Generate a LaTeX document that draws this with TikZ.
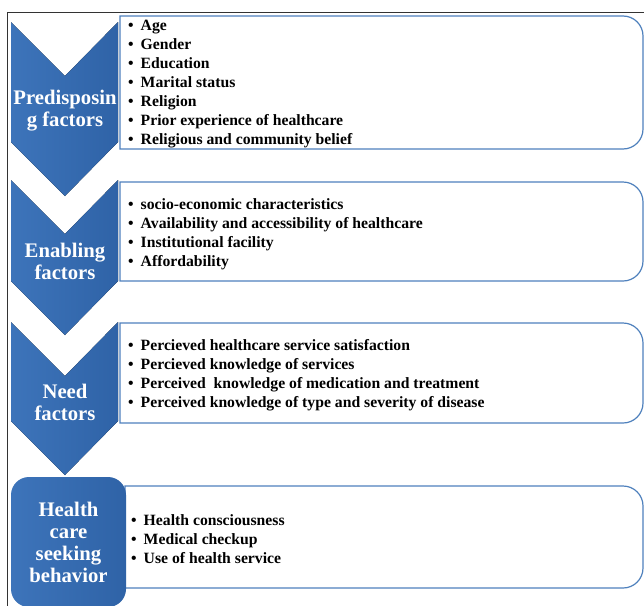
\documentclass[tikz,border=0pt]{standalone}
\usepackage{fontspec}
\setmainfont{Liberation Serif}
\usetikzlibrary{positioning}

\definecolor{chevlight}{HTML}{3D74BA}
\definecolor{chevdark}{HTML}{2F63A7}
\definecolor{boxline}{HTML}{4F81BD}

\tikzset{
    chevron/.style={left color=chevlight, right color=chevdark},
    factor/.style={text=white, font=\bfseries\fontsize{20.7}{22}\selectfont, align=center, inner sep=0pt},
    itemlist/.style={font=\bfseries\fontsize{15.7}{19}\selectfont, align=left, anchor=west, inner sep=0pt},
    listbox/.style={draw=boxline, line width=1.2pt, fill=white},
}
\newcommand{\bul}{\textbullet\hspace{0.45em}}

\begin{document}
\begin{tikzpicture}[x=1pt, y=-1pt]
    \useasboundingbox (0,0) rectangle (644,605);
    \clip (0,0) rectangle (644,605);
    \fill[white] (0,0) rectangle (644,605);
    \draw[black!80, line width=1pt] (7,12) rectangle (660,620);

    % item boxes, round on the right side only
    \foreach \top/\bot/\lft in {16/149/120, 182/281/120, 323/423/120, 486/588/125}
        \draw[listbox] (\lft,\bot) -- (\lft,\top) [rounded corners=20] -- (643,\top) -- (643,\bot) [sharp corners] -- cycle;

    % chevrons
    \foreach \top/\bot in {22/142, 180/281, 322/421}
        \fill[chevron] (11,\top) -- (65,{\top+54}) -- (118,\top) -- (118,\bot) -- (65,{\bot+54}) -- (11,\bot) -- cycle;

    \node[factor] (predisposing) at (65,111) {Predisposin\\g factors};
    \node[factor] (enabling) at (65,261) {Enabling\\factors};
    \node[factor] (need) at (65,402) {Need\\factors};
    \node[chevron, rounded corners=18, minimum width=115pt, minimum height=130pt, inner sep=0pt] (behavior) at (68.5,542) {};
    \node[factor] (behaviortext) at (68.5,542) {Health\\care\\seeking\\behavior};

    \node[itemlist] (predlist) at (128,84.5) {\bul Age\\ \bul Gender\\ \bul Education\\ \bul Marital status\\ \bul Religion\\ \bul Prior experience of healthcare\\ \bul Religious and community belief};
    \node[itemlist] (enablist) at (128,234) {\bul socio-economic characteristics\\ \bul Availability and accessibility of healthcare\\ \bul Institutional facility\\ \bul Affordability};
    \node[itemlist] (needlist) at (128,375) {\bul Percieved healthcare service satisfaction\\ \bul Percieved knowledge of services\\ \bul Perceived\ \ knowledge of medication and treatment\\ \bul Perceived knowledge of type and severity of disease};
    \node[itemlist] (behavlist) at (131,539) {\bul Health consciousness\\ \bul Medical checkup\\ \bul Use of health service};
\end{tikzpicture}
\end{document}
